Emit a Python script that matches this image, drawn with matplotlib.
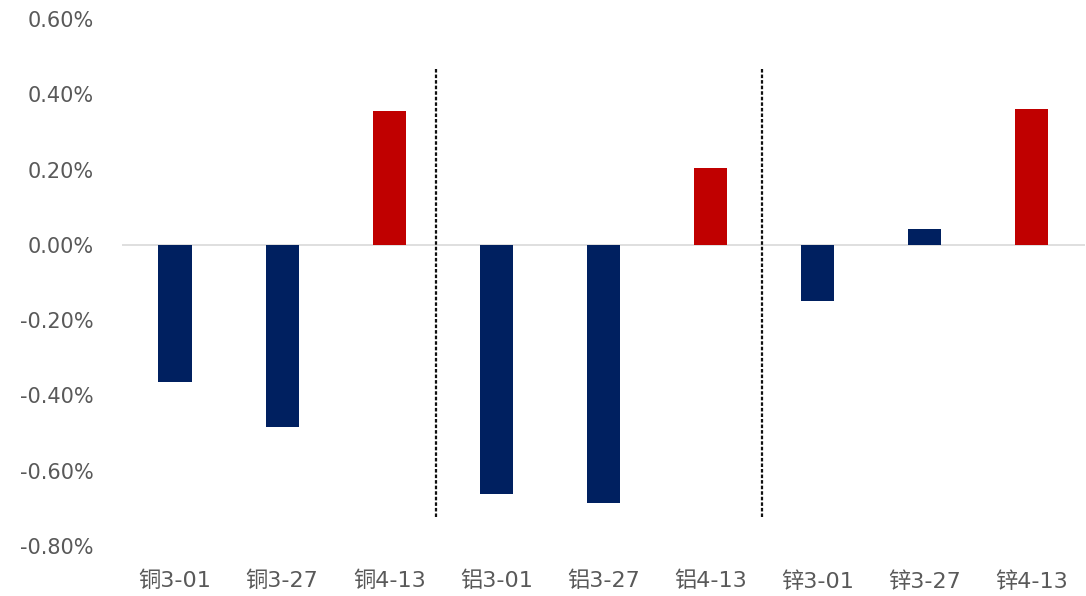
import matplotlib
matplotlib.use("Agg")
from matplotlib import pyplot as plt
from matplotlib.ticker import FuncFormatter

# digits in DejaVu (wide, like the original), Chinese falls back to Noto CJK
plt.rcParams['font.family'] = ['DejaVu Sans', 'Noto Sans CJK SC']

labels = ["铜3-01", "铜3-27", "铜4-13", "铝3-01", "铝3-27", "铝4-13", "锌3-01", "锌3-27", "锌4-13"]
values = [-0.363, -0.485, 0.355, -0.663, -0.685, 0.204, -0.148, 0.042, 0.360]
colors = ["#002060", "#002060", "#C00000",
          "#002060", "#002060", "#C00000",
          "#002060", "#002060", "#C00000"]
dividers = [2.44, 5.48]

fig = plt.figure(figsize=(10.86, 5.96), dpi=100)
ax = fig.add_axes([0.1119, 0.0839, 0.8872, 0.8842])

x = range(len(labels))
ax.bar(x, values, 0.31, color=colors, zorder=3)
ax.axhline(0, color="#D9D9D9", linewidth=1.2, zorder=2)

for d in dividers:
    ax.plot([d, d], [0.466, -0.727], color="#111111", linestyle=(0, (1.6, 0.9)),
            linewidth=1.6, zorder=4)

ax.set_xlim(-0.5, 8.5)
ax.set_ylim(-0.8, 0.6)
ax.set_yticks([0.6, 0.4, 0.2, 0.0, -0.2, -0.4, -0.6, -0.8])
ax.yaxis.set_major_formatter(FuncFormatter(lambda v, p: f"{v:.2f}%"))
ax.set_xticks(list(x))
ax.set_xticklabels(labels)

for s in ax.spines.values():
    s.set_visible(False)
ax.tick_params(axis="both", length=0, labelcolor="#595959")
ax.tick_params(axis="y", pad=20, labelsize=15)
ax.tick_params(axis="x", pad=18, labelsize=16)

fig.savefig("out.png", dpi=100)
